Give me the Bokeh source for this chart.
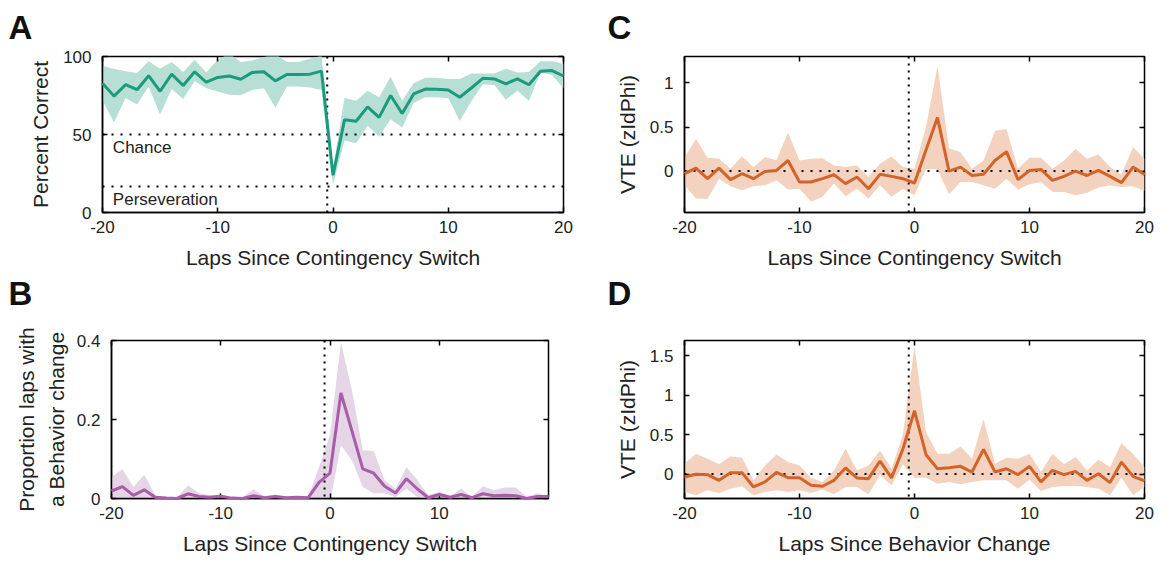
from bokeh.plotting import figure
from bokeh.models import Range1d, FixedTicker, LinearAxis, Span, Label, Title, CustomJSTickFormatter
from bokeh.layouts import column, row
from bokeh.embed import file_html
from bokeh.resources import INLINE

# ---------------- data ----------------
laps = list(range(-20, 21))

# Panel A: percent correct
a_mean = [82.9, 74.6, 81.9, 78.7, 87.7, 77.7, 88.7, 81.4, 90.2, 83.5, 86.6, 87.5, 85.4, 89.8,
          90.2, 84.4, 88.5, 88.5, 88.7, 90.6, 23.9, 59.4, 58.5, 67.7, 61.0, 75.0, 63.5, 76.0,
          79.1, 79.0, 78.5, 73.9, 79.8, 86.0, 85.6, 82.5, 85.6, 81.9, 90.6, 91.0, 87.5]
a_upper = [93.9, 92.2, 90.6, 89.5, 96.9, 92.2, 96.4, 90.1, 97.9, 89.7, 97.9, 102.0, 96.4, 97.5,
           99.6, 101.7, 96.4, 96.4, 98.5, 100.6, 28.5, 73.4, 71.7, 78.0, 73.8, 87.0, 71.7, 82.8,
           86.4, 86.4, 85.5, 85.5, 89.1, 89.1, 89.1, 92.2, 89.7, 90.1, 96.9, 96.9, 95.4]
a_lower = [72.0, 57.7, 73.4, 69.2, 80.7, 62.9, 79.2, 72.7, 84.3, 79.7, 77.6, 75.5, 75.1, 78.6,
           79.7, 67.1, 80.7, 80.7, 80.1, 78.6, 17.8, 46.1, 44.4, 55.6, 48.6, 59.7, 54.5, 70.2,
           73.8, 73.8, 73.4, 58.7, 71.3, 82.2, 81.8, 72.3, 78.0, 71.7, 89.7, 88.1, 79.7]
a_chance = 50
a_persev = 16.7

# Panel B: proportion laps with a behavior change
b_mean = [0.019, 0.030, 0.008, 0.022, 0.003, 0.001, 0.000, 0.012, 0.005, 0.003, 0.006, 0.001,
          0.000, 0.007, 0.002, 0.005, 0.002, 0.003, 0.002, 0.041, 0.064, 0.267, 0.172, 0.075,
          0.064, 0.031, 0.014, 0.050, 0.024, 0.002, 0.010, 0.003, 0.010, 0.002, 0.012, 0.007,
          0.008, 0.007, 0.000, 0.005, 0.005]
b_upper = [0.054, 0.075, 0.029, 0.060, 0.008, 0.004, 0.003, 0.033, 0.013, 0.008, 0.010, 0.003,
           0.003, 0.023, 0.005, 0.010, 0.004, 0.004, 0.003, 0.080, 0.160, 0.396, 0.274, 0.122,
           0.120, 0.046, 0.025, 0.080, 0.046, 0.008, 0.017, 0.006, 0.025, 0.004, 0.031, 0.021,
           0.028, 0.028, 0.004, 0.013, 0.006]
b_lower = [-0.016, -0.015, -0.013, -0.016, -0.002, -0.002, -0.003, -0.009, -0.003, -0.002,
           0.002, -0.001, -0.003, -0.009, -0.001, 0.000, 0.000, 0.002, 0.001, 0.002, -0.010,
           0.135, 0.097, 0.029, 0.013, 0.013, 0.004, 0.025, 0.004, -0.004, 0.003, 0.000, -0.005,
           0.000, -0.007, -0.007, -0.012, -0.014, -0.004, -0.003, 0.004]

# Panel C: VTE around contingency switch
c_mean = [-0.030, 0.034, -0.086, 0.034, -0.097, -0.030, -0.086, -0.004, 0.007, 0.120, -0.124,
          -0.124, -0.086, -0.040, -0.142, -0.067, -0.200, -0.037, -0.060, -0.086, -0.135, 0.240,
          0.607, 0.000, 0.045, -0.050, -0.037, 0.120, 0.220, -0.097, 0.007, 0.019, -0.105, -0.060,
          0.000, -0.050, 0.007, -0.060, -0.131, 0.045, -0.040]
c_upper = [0.157, 0.363, 0.150, 0.139, 0.026, 0.165, 0.045, 0.157, 0.127, 0.438, 0.120, 0.139,
           0.146, 0.064, 0.045, 0.064, -0.067, 0.082, 0.165, 0.045, 0.026, 0.500, 1.190, 0.260,
           0.213, 0.026, 0.120, 0.457, 0.476, 0.026, 0.150, 0.150, 0.026, 0.120, 0.250, 0.139,
           0.187, 0.045, -0.037, 0.270, 0.139]
c_lower = [-0.160, -0.310, -0.318, -0.086, -0.172, -0.217, -0.172, -0.160, -0.105, -0.210,
           -0.200, -0.348, -0.292, -0.142, -0.285, -0.200, -0.310, -0.160, -0.292, -0.200,
           -0.273, 0.026, 0.019, -0.262, -0.124, -0.124, -0.160, -0.200, -0.086, -0.210, -0.150,
           -0.124, -0.236, -0.236, -0.273, -0.247, -0.187, -0.160, -0.180, -0.172, -0.225]

# Panel D: VTE around behavior change
d_mean = [-0.038, -0.004, -0.008, -0.080, 0.017, 0.017, -0.164, -0.100, 0.021, -0.046, -0.046,
          -0.143, -0.155, -0.080, 0.076, -0.050, -0.059, 0.164, -0.050, 0.320, 0.800, 0.244,
          0.067, 0.080, 0.097, 0.025, 0.311, 0.025, 0.067, -0.008, 0.097, -0.100, 0.046, -0.008,
          0.034, -0.080, 0.004, -0.109, 0.151, -0.029, -0.088]
d_upper = [0.130, 0.256, 0.193, 0.122, 0.223, 0.206, -0.080, 0.109, 0.248, 0.151, 0.109, -0.046,
           -0.100, 0.046, 0.320, 0.046, 0.109, 0.298, 0.067, 0.508, 1.620, 0.530, 0.256, 0.256,
           0.349, 0.193, 0.697, 0.130, 0.206, 0.193, 0.256, 0.025, 0.256, 0.122, 0.214, 0.046,
           0.180, 0.088, 0.390, 0.256, 0.088]
d_lower = [-0.227, -0.269, -0.206, -0.240, -0.185, -0.155, -0.269, -0.227, -0.206, -0.227,
           -0.206, -0.240, -0.197, -0.256, -0.164, -0.164, -0.256, -0.017, -0.143, 0.122, -0.046,
           -0.046, -0.122, -0.100, -0.130, -0.100, -0.080, -0.080, -0.080, -0.185, -0.071, -0.214,
           -0.164, -0.151, -0.151, -0.164, -0.185, -0.269, -0.046, -0.269, -0.164]

x_ticks = [-20, -10, 0, 10, 20]
b_x_ticks = [-20, -10, 0, 10]
a_y_ticks = [0, 50, 100]
b_y_ticks = [0, 0.2, 0.4]
c_y_ticks = [0, 0.5, 1]
d_y_ticks = [0, 0.5, 1, 1.5]
switch_lap = -0.5

GREEN, GREEN_FILL = "#1b9a7c", "#b7dfd5"
PURPLE, PURPLE_FILL = "#a65ea8", "#e6d4e7"
ORANGE, ORANGE_FILL = "#d2642a", "#f3d2bf"

FONT = "Liberation Sans"
TXT = "#222222"

fmt = CustomJSTickFormatter(code="return String(tick);")


def style_axis(ax, ticks, label=None, show=True):
    ax.ticker = FixedTicker(ticks=ticks)
    ax.major_tick_in = 5
    ax.major_tick_out = 0
    ax.minor_tick_line_color = None
    ax.major_tick_line_color = "black"
    ax.major_tick_line_width = 1.5
    ax.axis_line_color = "black"
    ax.axis_line_width = 1.5
    if show:
        ax.formatter = fmt
        ax.major_label_text_font = FONT
        ax.major_label_text_font_size = "17px"
        ax.major_label_text_color = TXT
        ax.major_label_standoff = 8
    else:
        ax.major_label_text_color = None
        ax.major_label_standoff = 0
        ax.axis_line_color = None
    if label is not None:
        ax.axis_label = label
        ax.axis_label_text_font = FONT
        ax.axis_label_text_font_size = "21px"
        ax.axis_label_text_font_style = "normal"
        ax.axis_label_text_color = TXT


def letter_title(text, offset, standoff):
    return Title(text=text, text_font=FONT, text_font_size="33px", text_font_style="bold",
                 text_color="#111111", align="left", vertical_align="top",
                 offset=offset, standoff=standoff)


def make_panel(w, h, bl, br, bt, bb, xr, yr, xt, yt, xlabel, ylabel, ylabel_standoff,
               xlabel_standoff=10):
    p = figure(width=w, height=h, x_range=Range1d(*xr), y_range=Range1d(*yr),
               output_backend="svg", toolbar_location=None, title=None,
               min_border_left=bl, min_border_right=br,
               min_border_top=bt, min_border_bottom=bb)
    p.xgrid.visible = False
    p.ygrid.visible = False
    p.outline_line_color = "black"
    p.outline_line_width = 1.5
    p.outline_line_alpha = 1.0
    p.background_fill_color = "white"
    p.border_fill_color = "white"
    style_axis(p.xaxis[0], xt, xlabel)
    style_axis(p.yaxis[0], yt, ylabel)
    p.yaxis[0].major_label_standoff = 11
    p.yaxis[0].axis_label_standoff = ylabel_standoff
    p.xaxis[0].axis_label_standoff = xlabel_standoff
    top = LinearAxis()
    style_axis(top, xt, show=False)
    p.add_layout(top, "above")
    right = LinearAxis()
    style_axis(right, yt, show=False)
    p.add_layout(right, "right")
    return p


def dotted(p, loc, dim):
    dash = "2 7" if dim == "width" else "2 5"
    p.add_layout(Span(location=loc, dimension=dim, line_color="black",
                      line_width=2, line_dash=dash))


TOP_H = 320
BOT_H = 561 - TOP_H

# ---------------- Panel A (also carries letters A and B) ----------------
pA = make_panel(580, TOP_H, 102, 17, 55, TOP_H - 213, (-20, 20), (0, 100), x_ticks, a_y_ticks,
                "Laps Since Contingency Switch", "Percent Correct", 8)
pA.add_layout(letter_title("A", -94, 17), "above")
pA.add_layout(letter_title("B", -94, 6), "below")
pA.varea(x=laps, y1=a_lower, y2=a_upper, fill_color=GREEN_FILL, fill_alpha=1.0)
dotted(pA, a_chance, "width")
dotted(pA, a_persev, "width")
dotted(pA, switch_lap, "height")
pA.line(laps, a_mean, line_color=GREEN, line_width=3, level="overlay")
pA.add_layout(Label(x=-19.1, y=41.5, text="Chance", text_font=FONT, text_font_size="17px",
                    text_color=TXT, text_baseline="middle"))
pA.add_layout(Label(x=-19.1, y=8.5, text="Perseveration", text_font=FONT,
                    text_font_size="17px", text_color=TXT, text_baseline="middle"))

# ---------------- Panel C (also carries letters C and D) ----------------
pC = make_panel(583, TOP_H, 104, 19, 55, TOP_H - 212, (-20, 20), (-0.47, 1.3), x_ticks,
                c_y_ticks, "Laps Since Contingency Switch", "VTE (zIdPhi)", 8)
pC.add_layout(letter_title("C", -77, 17), "above")
pC.add_layout(letter_title("D", -77, 6), "below")
pC.varea(x=laps, y1=c_lower, y2=c_upper, fill_color=ORANGE_FILL, fill_alpha=1.0)
dotted(pC, 0, "width")
dotted(pC, switch_lap, "height")
pC.line(laps, c_mean, line_color=ORANGE, line_width=3, level="overlay")

# ---------------- Panel B ----------------
pB = make_panel(580, BOT_H, 111, 32, 340 - TOP_H, 63, (-20, 20), (0, 0.4), b_x_ticks, b_y_ticks,
                "Laps Since Contingency Switch", "Proportion laps with\na Behavior change", 6)
pB.yaxis[0].axis_label_text_line_height = 1.3
pB.varea(x=laps, y1=b_lower, y2=b_upper, fill_color=PURPLE_FILL, fill_alpha=1.0)
dotted(pB, switch_lap, "height")
pB.line(laps, b_mean, line_color=PURPLE, line_width=3, level="overlay")

# ---------------- Panel D ----------------
pD = make_panel(583, BOT_H, 104, 19, 340 - TOP_H, 63, (-20, 20), (-0.31, 1.69), x_ticks,
                d_y_ticks, "Laps Since Behavior Change", "VTE (zIdPhi)", 8)
pD.varea(x=laps, y1=d_lower, y2=d_upper, fill_color=ORANGE_FILL, fill_alpha=1.0)
dotted(pD, 0, "width")
dotted(pD, switch_lap, "height")
pD.line(laps, d_mean, line_color=ORANGE, line_width=3, level="overlay")

layout = column(row(pA, pC), row(pB, pD))
open("out.html", "w").write(file_html(layout, INLINE))
